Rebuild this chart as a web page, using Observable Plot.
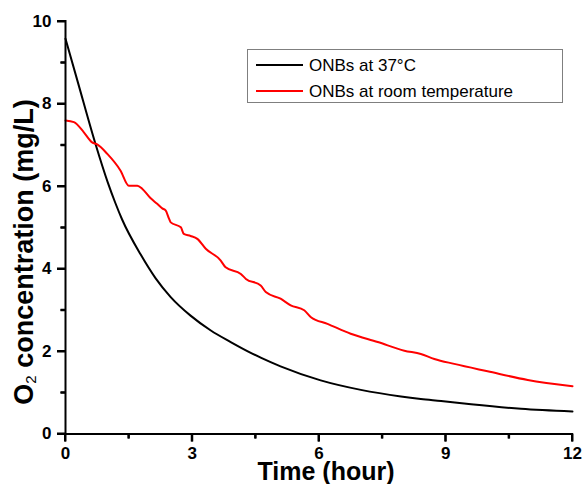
<!DOCTYPE html>
<html>
<head>
<meta charset="utf-8">
<script src="https://cdn.jsdelivr.net/npm/d3@7"></script>
<script src="https://cdn.jsdelivr.net/npm/@observablehq/plot@0.6"></script>
<style>
  html, body { margin: 0; padding: 0; background: #fff; }
  #chart svg { font-family: 'Liberation Sans', Arial, Helvetica, sans-serif; }
</style>
</head>
<body>
<div id="chart"></div>
<script>
// Series: ONBs at 37°C (black)
const blackTime = [0, 0.3, 0.71, 1.0, 1.18, 1.34, 1.78, 2.13, 2.49, 2.96, 3.44, 3.91, 4.42, 4.62, 5.09, 6.04, 6.99, 7.94, 8.41, 8.89, 9.6, 10.78, 12];
const blackO2 = [9.58, 8.5, 7.03, 6.1, 5.6, 5.2, 4.35, 3.78, 3.32, 2.87, 2.51, 2.23, 1.95, 1.85, 1.64, 1.30, 1.07, 0.91, 0.85, 0.80, 0.72, 0.61, 0.545];

// Series: ONBs at room temperature (red)
const redTime = [0, 0.2, 0.43, 0.63, 0.75, 0.99, 1.30, 1.50, 1.70, 1.82, 2.01, 2.17, 2.29, 2.37, 2.45, 2.49, 2.73, 2.80, 2.96, 3.12, 3.32, 3.67, 3.79, 4.15, 4.27, 4.62, 4.74, 5.09, 5.33, 5.65, 5.81, 6.20, 6.75, 7.39, 8.02, 8.41, 8.73, 9.20, 9.99, 10.94, 12.0];
const redO2 = [7.60, 7.56, 7.32, 7.07, 7.02, 6.79, 6.39, 6.02, 6.02, 5.94, 5.72, 5.58, 5.47, 5.42, 5.22, 5.13, 5.01, 4.85, 4.80, 4.73, 4.49, 4.21, 4.04, 3.88, 3.76, 3.60, 3.44, 3.28, 3.12, 3.00, 2.83, 2.67, 2.43, 2.23, 2.02, 1.94, 1.82, 1.70, 1.52, 1.31, 1.16];

const seriesNames = ["ONBs at 37\u00B0C", "ONBs at room temperature"];
const seriesColors = ["#000000", "#ff0000"];

const xMajor = [0, 3, 6, 9, 12];
const xMinor = [1.5, 4.5, 7.5, 10.5];
const yMajor = [0, 2, 4, 6, 8, 10];
const yMinor = [1, 3, 5, 7, 9];

const blackData = blackTime.map((t, i) => ({t, v: blackO2[i]}));
const redData = redTime.map((t, i) => ({t, v: redO2[i]}));

const font = "'Liberation Sans', Arial, Helvetica, sans-serif";

const W = 584, H = 484, ML = 65, MR = 12, MT = 21, MB = 50.5;
const xDomain = [0, 12], yDomain = [0, 10];
const xUnit = (xDomain[1] - xDomain[0]) / (W - ML - MR);
const yUnit = (yDomain[1] - yDomain[0]) / (H - MT - MB);

const chart = Plot.plot({
  width: W,
  height: H,
  marginLeft: ML,
  marginRight: MR,
  marginTop: MT,
  marginBottom: MB,
  x: {domain: xDomain},
  y: {domain: yDomain},
  marks: [
    Plot.axisX({ticks: xMajor, tickSize: 0, tickPadding: 13, fontSize: 17, fontWeight: "bold", label: null, tickFormat: d => String(d)}),
    Plot.axisY({ticks: yMajor, tickSize: 0, tickPadding: 14, fontSize: 17, fontWeight: "bold", label: null, tickFormat: d => String(d)}),
    Plot.ruleX(xMajor, {x: d => d, y1: 0, y2: -8 * yUnit, stroke: "#000", strokeWidth: 2}),
    Plot.ruleX(xMinor, {x: d => d, y1: 0, y2: -5 * yUnit, stroke: "#000", strokeWidth: 2}),
    Plot.ruleY(yMajor, {y: d => d, x1: 0, x2: -8 * xUnit, stroke: "#000", strokeWidth: 2}),
    Plot.ruleY(yMinor, {y: d => d, x1: 0, x2: -4.5 * xUnit, stroke: "#000", strokeWidth: 2}),
    Plot.line(blackData, {x: "t", y: "v", stroke: seriesColors[0], strokeWidth: 2, curve: "monotone-x"}),
    Plot.line(redData, {x: "t", y: "v", stroke: seriesColors[1], strokeWidth: 2, curve: "monotone-x"}),
    Plot.ruleX([0], {strokeWidth: 2, strokeLinecap: "square"}),
    Plot.ruleY([0], {strokeWidth: 2, strokeLinecap: "square"})
  ]
});

document.getElementById("chart").appendChild(chart);

const svg = d3.select(chart);
const xs = chart.scale("x");
const ys = chart.scale("y");
const x0 = xs.apply(0);
const y0 = ys.apply(0);

// Tick marks as filled rects, positioned from the Plot scales
const tg = svg.append("g").attr("fill", "#000");
xMajor.forEach(v => tg.append("rect").attr("fill", "#000").attr("x", xs.apply(v) - 1).attr("y", y0).attr("width", 2).attr("height", 8));
xMinor.forEach(v => tg.append("rect").attr("fill", "#000").attr("x", xs.apply(v) - 1).attr("y", y0).attr("width", 2).attr("height", 5));
yMajor.forEach(v => tg.append("rect").attr("fill", "#000").attr("x", x0 - 8).attr("y", ys.apply(v) - 1).attr("width", 8).attr("height", 2));
yMinor.forEach(v => tg.append("rect").attr("fill", "#000").attr("x", x0 - 4.5).attr("y", ys.apply(v) - 1).attr("width", 4.5).attr("height", 2));

// X axis title
svg.append("text")
  .attr("x", 326)
  .attr("y", 480)
  .attr("text-anchor", "middle")
  .attr("font-family", font)
  .attr("font-size", 25)
  .attr("font-weight", "bold")
  .attr("fill", "#000")
  .text("Time (hour)");

// Y axis title with subscript
const yt = svg.append("text")
  .attr("transform", "translate(33,252) rotate(-90)")
  .attr("text-anchor", "middle")
  .attr("font-family", font)
  .attr("font-size", 27)
  .attr("font-weight", "bold")
  .attr("fill", "#000");
yt.append("tspan").text("O");
yt.append("tspan").attr("font-size", 15).attr("font-weight", "normal").attr("dy", 3).text("2");
yt.append("tspan").attr("dy", -3).text(" concentration (mg/L)");

// Legend
const lg = svg.append("g");
lg.append("rect")
  .attr("x", 247.5).attr("y", 49.5).attr("width", 315).attr("height", 53)
  .attr("fill", "#fff").attr("stroke", "#7f7f7f").attr("stroke-width", 1);
const rows = [65, 91];
seriesNames.forEach((name, i) => {
  lg.append("rect")
    .attr("x", 256).attr("y", rows[i] - 1).attr("width", 47).attr("height", 2)
    .attr("fill", seriesColors[i]);
  lg.append("text")
    .attr("x", 309).attr("y", rows[i] + 6)
    .attr("text-anchor", "start")
    .attr("font-family", font).attr("font-size", 17).attr("fill", "#000")
    .text(name);
});
</script>
</body>
</html>
